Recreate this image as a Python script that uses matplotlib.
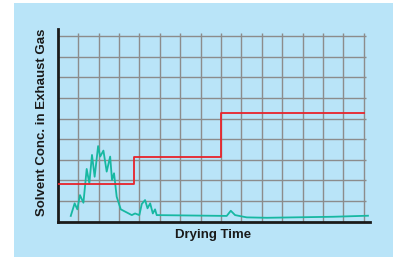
import matplotlib.pyplot as plt
from matplotlib.patches import Rectangle

# solvent concentration (teal trace)
time = [0.64, 0.83, 0.96, 1.09, 1.26, 1.42, 1.55, 1.68, 1.81, 1.98, 2.08, 2.24,
        2.40, 2.57, 2.66, 2.76, 2.89, 3.09, 3.38, 3.63, 3.79, 4.00, 4.12, 4.28,
        4.40, 4.53, 4.66, 4.77, 4.85, 8.28, 8.48, 8.69, 9.26, 10.25, 13.5, 15.2]
conc = [0.28, 0.89, 0.60, 1.29, 0.92, 2.56, 1.86, 3.24, 2.18, 3.67, 3.16, 3.45,
        2.43, 3.16, 2.02, 2.35, 1.21, 0.60, 0.45, 0.32, 0.40, 0.32, 0.86, 1.05,
        0.65, 0.89, 0.40, 0.60, 0.32, 0.28, 0.53, 0.32, 0.21, 0.19, 0.24, 0.29]

# step limit (red)
step_x = [0, 3.75, 8.0, 15.0]
step_y = [1.82, 3.14, 5.29, 5.29]

bg = '#b9e4f8'

fig = plt.figure(figsize=(3.93, 2.57), dpi=100)
fig.patch.set_facecolor('white')
fig.patches.append(Rectangle((14 / 393, 0), 1 - 14 / 393, 254 / 257,
                             transform=fig.transFigure, facecolor=bg,
                             edgecolor='none', zorder=-5))

ax = fig.add_axes([57.7 / 393, 1 - 221.7 / 257, 312.3 / 393, 192.7 / 257])
ax.set_zorder(2)
ax.set_facecolor('none')
ax.set_xlim(0, 15.3)
ax.set_ylim(0, 9.35)

ax.vlines(range(1, 16), 0, 9.15, color='#8c8c8c', lw=1.0, zorder=1)
ax.hlines(range(1, 10), 0, 15.1, color='#8c8c8c', lw=1.0, zorder=1)

ax.step(step_x, step_y, where='post', color='#e8232a', lw=1.3, zorder=3)
ax.plot(time, conc, color='#17b8a2', lw=1.3, zorder=2)

for s in ['top', 'right']:
    ax.spines[s].set_visible(False)
for s in ['left', 'bottom']:
    ax.spines[s].set_linewidth(2.0)
    ax.spines[s].set_color('#1a1a1a')
ax.set_xticks([])
ax.set_yticks([])

fam = ['Liberation Sans', 'DejaVu Sans']
fig.text(213 / 393, 1 - 235 / 257, 'Drying Time', ha='center', va='center',
         fontsize=9.5, fontweight='bold', family=fam, color='#1a1a1a')
fig.text(42 / 393, 1 - 122 / 257, 'Solvent Conc. in Exhaust Gas', ha='center',
         va='center', rotation=90, fontsize=9.5, fontweight='bold',
         family=fam, color='#1a1a1a')

fig.savefig('out.png', dpi=100)
